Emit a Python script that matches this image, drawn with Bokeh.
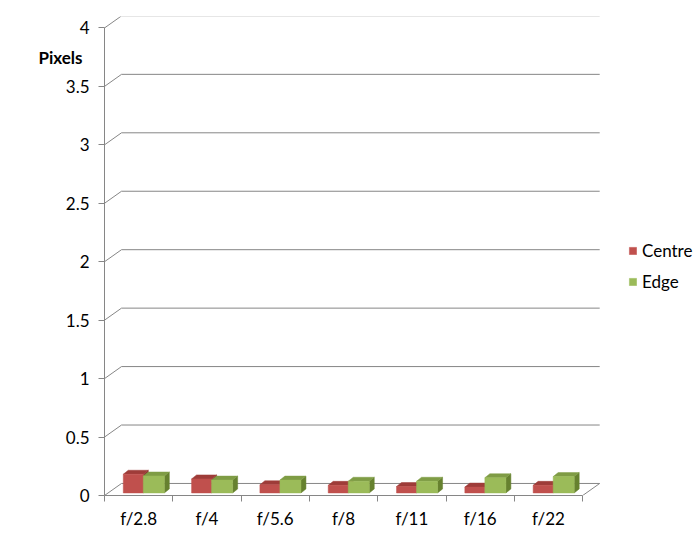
from bokeh.plotting import figure
from bokeh.models import (Range1d, FixedTicker, Legend, LegendItem, LinearAxis)
from bokeh.embed import file_html
from bokeh.resources import INLINE

# ---- data ----
categories = ["f/2.8", "f/4", "f/5.6", "f/8", "f/11", "f/16", "f/22"]
centre = [0.16, 0.12, 0.07, 0.065, 0.055, 0.05, 0.065]
edge = [0.145, 0.11, 0.11, 0.10, 0.10, 0.13, 0.14]
y_ticks = [0, 0.5, 1, 1.5, 2, 2.5, 3, 3.5, 4]
y_tick_labels = ["0", "0.5", "1", "1.5", "2", "2.5", "3", "3.5", "4"]
series_names = ["Centre", "Edge"]
y_title = "Pixels"

# ---- style ----
FONT = "Lato"
GRID = "#868686"
RED, RED_TOP, RED_SIDE = "#C0504D", "#9E3C39", "#8A3431"
GRN, GRN_TOP, GRN_SIDE = "#9BBB59", "#7F9C45", "#66812F"

n = len(categories)
p = figure(width=699, height=536, output_backend="svg", toolbar_location=None,
           x_range=Range1d(0, 8.71), y_range=Range1d(0, 4.098),
           min_border_left=104, min_border_right=0, min_border_top=16,
           min_border_bottom=41)
p.outline_line_color = None
p.xgrid.visible = False
p.ygrid.visible = False
p.background_fill_color = "white"

# wall depth offsets (data units)
wdx, wdy = 0.249, 0.103
xs, ys = [], []
for v in y_ticks:
    xs.append([0, wdx, n + wdx]); ys.append([v, v + wdy, v + wdy])
xs.append([n, n + wdx]); ys.append([0, wdy])
p.multi_line(xs, ys, line_color=GRID, line_width=1)

# bars
bdx, bdy = 0.073, 0.034
base = 0.022
offs = [(0.275, 0.568), (0.568, 0.876)]
cols = [(RED, RED_TOP, RED_SIDE), (GRN, GRN_TOP, GRN_SIDE)]
fronts = []
for s, vals in enumerate([centre, edge]):
    f, t, sd = cols[s]
    x0 = [i + offs[s][0] for i in range(n)]
    x1 = [i + offs[s][1] for i in range(n)]
    top_x = [[a, b, b + bdx, a + bdx] for a, b in zip(x0, x1)]
    top_y = [[base + h, base + h, base + h + bdy, base + h + bdy] for h in vals]
    side_x = [[b, b + bdx, b + bdx, b] for b in x1]
    side_y = [[base, base + bdy, base + h + bdy, base + h] for h in vals]
    p.patches(side_x, side_y, fill_color=sd, line_color=sd, line_width=0.5)
    p.patches(top_x, top_y, fill_color=t, line_color=t, line_width=0.5)
    r = p.quad(left=x0, right=x1, bottom=[base] * n, top=[base + h for h in vals],
               fill_color=f, line_color=f, line_width=0.5)
    fronts.append(r)

# axes
xa = p.xaxis[0]
xa.ticker = FixedTicker(ticks=[i + 0.5 for i in range(n)],
                        minor_ticks=list(range(n + 1)))
xa.major_label_overrides = {i + 0.5: c for i, c in enumerate(categories)}
xa.bounds = (0, n)
xa.axis_line_color = GRID
xa.major_tick_out = 0
xa.major_tick_in = 0
xa.minor_tick_out = 6
xa.minor_tick_in = 0
xa.minor_tick_line_color = GRID
xa.major_label_standoff = 6
xa.major_label_text_font = FONT
xa.major_label_text_font_size = "17px"
xa.major_label_text_color = "#000000"

ya = p.yaxis[0]
ya.ticker = FixedTicker(ticks=y_ticks, minor_ticks=[])
ya.major_label_overrides = {v: l for v, l in zip(y_ticks, y_tick_labels)}
ya.bounds = (0, 4)
ya.axis_line_color = GRID
ya.major_tick_line_color = GRID
ya.major_tick_out = 6
ya.major_tick_in = 0
ya.minor_tick_line_color = None
ya.major_label_standoff = 9
ya.major_label_text_font = FONT
ya.major_label_text_font_size = "17px"
ya.major_label_text_color = "#000000"

# y-axis title drawn as a horizontal tick label of an extra left axis
title_pos = 3.749
ta = LinearAxis(ticker=FixedTicker(ticks=[title_pos], minor_ticks=[]),
                major_label_overrides={title_pos: y_title},
                axis_line_color=None, major_tick_line_color=None,
                minor_tick_line_color=None, major_tick_out=0, major_tick_in=0,
                major_label_standoff=-20,
                major_label_text_font=FONT, major_label_text_font_size="17px",
                major_label_text_font_style="bold",
                major_label_text_color="#000000")
p.add_layout(ta, "left")

legend = Legend(items=[LegendItem(label=series_names[0], renderers=[fronts[0]]),
                       LegendItem(label=series_names[1], renderers=[fronts[1]])],
                location=(524, 203), orientation="vertical",
                glyph_width=9, glyph_height=9, label_height=20, spacing=10,
                padding=0, margin=0, label_standoff=5,
                border_line_color=None, background_fill_alpha=0,
                label_text_font=FONT, label_text_font_size="17px",
                label_text_color="#000000", label_text_baseline="middle")
p.add_layout(legend)

open("out.html", "w").write(file_html(p, INLINE))
